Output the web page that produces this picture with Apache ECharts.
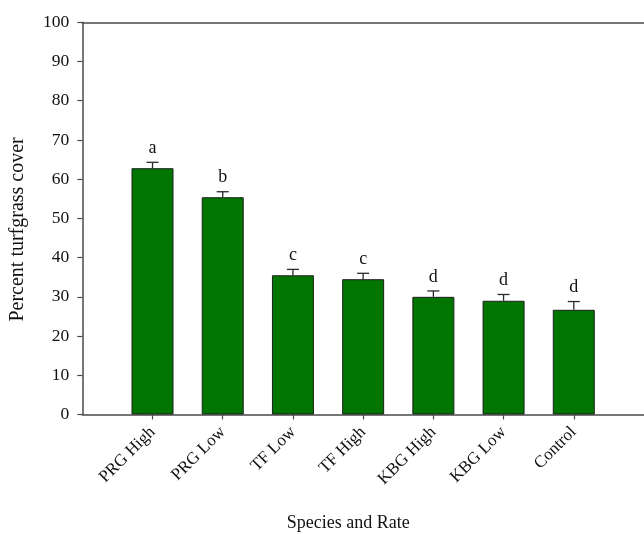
<!DOCTYPE html>
<html>
<head>
<meta charset="utf-8">
<script src="https://cdn.jsdelivr.net/npm/echarts@6/dist/echarts.min.js"></script>
<style>
  html, body { margin: 0; padding: 0; background: #fff; }
  #chart { width: 644px; height: 534px; }
</style>
</head>
<body>
<div id="chart"></div>
<script>
// Treatments, mean cover, standard error and mean-separation letters
const categories = ['PRG High', 'PRG Low', 'TF Low', 'TF High', 'KBG High', 'KBG Low', 'Control'];
const coverValues = [62.8, 55.4, 35.5, 34.5, 30.0, 29.0, 26.7];
const stdErrors = [1.5, 1.4, 1.5, 1.5, 1.5, 1.6, 2.1];
const letters = ['a', 'b', 'c', 'c', 'd', 'd', 'd'];
const yTicks = [0, 10, 20, 30, 40, 50, 60, 70, 80, 90, 100];

const FONT = '"Liberation Serif", "Times New Roman", serif';
const AXIS_COLOR = '#4a4a4a';

// Padded axis: an empty slot on each side so bars sit at positions 1..7
const axisCats = [''].concat(categories, ['']);
const barData = ['-'].concat(coverValues, ['-']);
const errData = categories.map((c, i) => [i + 1, coverValues[i], coverValues[i] + stdErrors[i], letters[i]]);

const chart = echarts.init(document.getElementById('chart'), null, { renderer: 'canvas' });

chart.setOption({
  animation: false,
  backgroundColor: '#ffffff',
  grid: { left: 82.3, top: 22.3, right: 0, bottom: 119.5, containLabel: false, outerBoundsMode: 'none' },
  xAxis: [{
    type: 'category',
    data: axisCats,
    boundaryGap: false,
    axisLine: { show: true, lineStyle: { color: AXIS_COLOR, width: 1.5 } },
    axisTick: {
      show: true, length: 5, inside: false,
      interval: (idx, val) => val !== '',
      lineStyle: { color: AXIS_COLOR, width: 1.2 }
    },
    axisLabel: {
      interval: 0, rotate: 45, margin: 15,
      fontFamily: FONT, fontSize: 17, color: '#111'
    },
    name: 'Species and Rate',
    nameLocation: 'middle',
    nameGap: 100,
    nameTextStyle: { fontFamily: FONT, fontSize: 18, color: '#111', padding: [0, 30, 0, 0] }
  }, {
    // top frame line
    type: 'category',
    position: 'top',
    data: axisCats,
    boundaryGap: false,
    axisLine: { show: true, lineStyle: { color: AXIS_COLOR, width: 1.5 } },
    axisTick: { show: false },
    axisLabel: { show: false }
  }],
  yAxis: {
    type: 'value',
    min: yTicks[0],
    max: yTicks[yTicks.length - 1],
    interval: yTicks[1] - yTicks[0],
    splitLine: { show: false },
    axisLine: { show: true, lineStyle: { color: AXIS_COLOR, width: 1.5 } },
    axisTick: { show: true, length: 5, inside: false, lineStyle: { color: AXIS_COLOR, width: 1.2 } },
    axisLabel: { margin: 13, fontFamily: FONT, fontSize: 17.5, color: '#111' },
    name: 'Percent turfgrass cover',
    nameLocation: 'middle',
    nameGap: 55,
    nameRotate: 90,
    nameTextStyle: { fontFamily: FONT, fontSize: 20, color: '#111', padding: [0, 22, 0, 0] }
  },
  series: [{
    type: 'bar',
    data: barData,
    barWidth: 42,
    itemStyle: { color: '#007600', borderColor: '#1e1e1e', borderWidth: 1 },
    z: 2
  }, {
    // upper standard-error whiskers with caps, letters above
    type: 'custom',
    data: errData,
    z: 3,
    renderItem: function (params, api) {
      const x = api.value(0);
      const base = api.coord([x, api.value(1)]);
      const top = api.coord([x, api.value(2)]);
      const half = 6;
      const style = { stroke: '#2a2a2a', lineWidth: 1.3 };
      return {
        type: 'group',
        children: [
          { type: 'line', shape: { x1: base[0], y1: base[1], x2: top[0], y2: top[1] }, style: style },
          { type: 'line', shape: { x1: top[0] - half, y1: top[1], x2: top[0] + half, y2: top[1] }, style: style },
          {
            type: 'text',
            style: {
              text: api.value(3),
              x: top[0], y: top[1] - 5,
              textAlign: 'center', textVerticalAlign: 'bottom',
              font: '18px ' + FONT, fill: '#111'
            }
          }
        ]
      };
    }
  }]
});
</script>
</body>
</html>
